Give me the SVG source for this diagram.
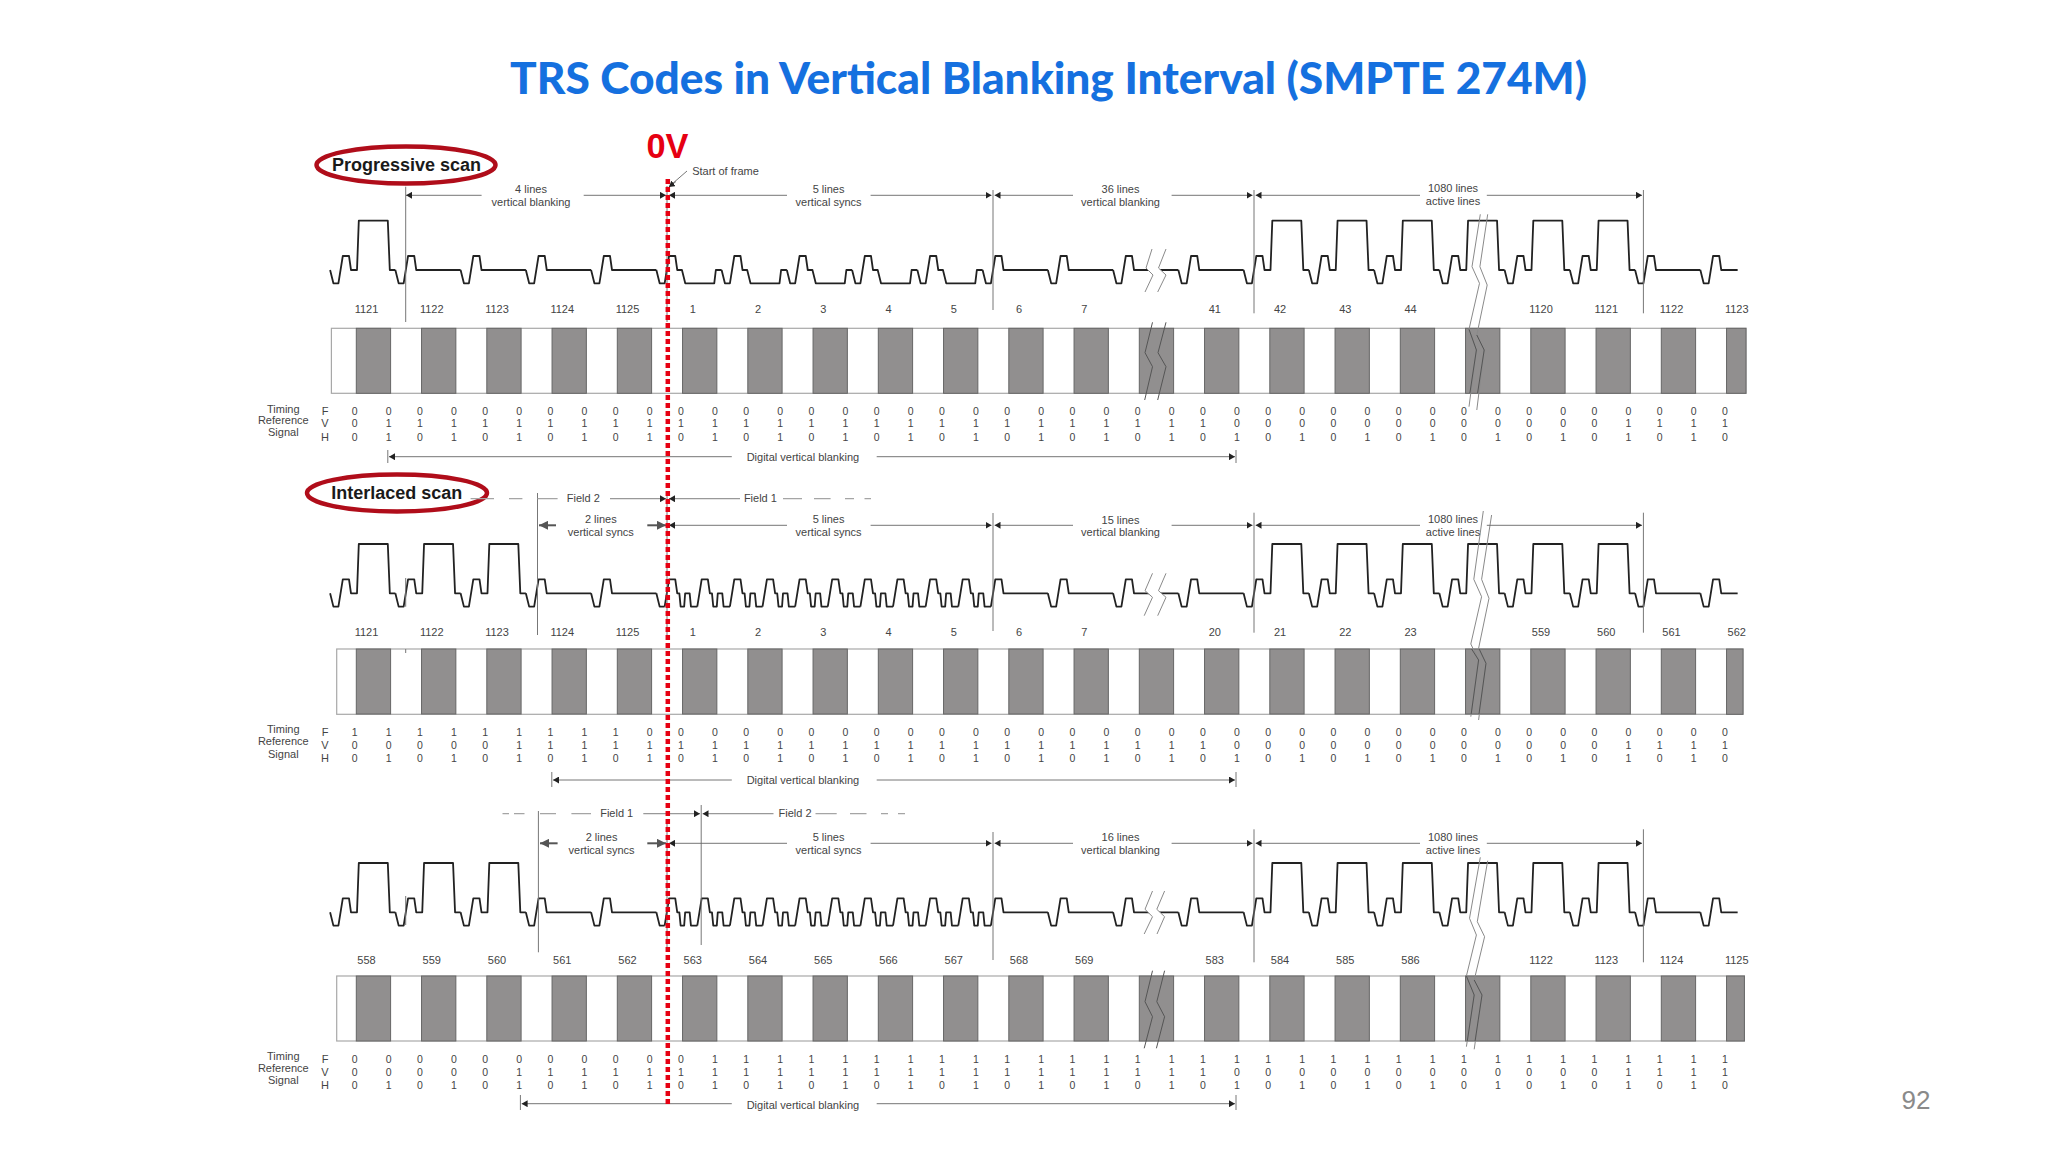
<svg xmlns="http://www.w3.org/2000/svg" width="2048" height="1152" viewBox="0 0 2048 1152">
<style>
text{font-family:"Liberation Sans",Arial,sans-serif;fill:#444;font-size:11px;text-anchor:middle;dominant-baseline:central}
.title{font-family:"Lato","Liberation Sans",sans-serif;font-weight:900;font-size:43px;fill:#1570df;text-anchor:start;dominant-baseline:auto}
.ov{font-weight:700;font-size:35px;fill:#e60012;dominant-baseline:auto}
.scan{font-weight:700;font-size:18px;fill:#1a1a1a}
.pg{font-size:26px;fill:#8a8a8a}
.dg{font-size:10.5px}
.wave{fill:none;stroke:#222;stroke-width:1.8;stroke-linejoin:round}
.ell{fill:none;stroke:#b00d1a;stroke-width:4.5}
.frame{fill:#fff;stroke:#a8a8a8;stroke-width:1.2}
.bar{fill:#918f8f;stroke:#666;stroke-width:1}
.gap{fill:#fff;stroke:none}
.brk{fill:none;stroke:#8a8a8a;stroke-width:1}
.brk2{fill:none;stroke:#555;stroke-width:1}
.v{stroke:#777;stroke-width:1;fill:none}
.d{stroke:#666;stroke-width:.9;fill:none}
.da{stroke:#666;stroke-width:.9;fill:none;marker-end:url(#ah)}
.db{stroke:#555;stroke-width:2;fill:none;marker-end:url(#ahb)}
.f{stroke:#a5a5a5;stroke-width:1.3;fill:none}
.fa{stroke:#999;stroke-width:1.3;fill:none;marker-end:url(#ah)}
.red{stroke:#e60012;stroke-width:4.5;stroke-dasharray:5 3;fill:none}
</style>
<defs>
<marker id="ah" markerUnits="userSpaceOnUse" markerWidth="6" markerHeight="7" refX="6" refY="3.5" orient="auto"><path d="M0 0L6 3.5L0 7Z" fill="#222"/></marker>
<marker id="ahb" markerUnits="userSpaceOnUse" markerWidth="9" markerHeight="9" refX="9" refY="4.5" orient="auto"><path d="M0 0L9 4.5L0 9Z" fill="#555"/></marker>
<path id="pa" d="M-10.3 0L-7 13.3H-2L2.4 -14H8.6L10.6 0H16.6L18.4 -49.3H47.4L49.4 0H55"/>
<path id="pb" d="M-10.3 0L-7 13.3H-2L2.4 -14H8.6L10.6 0H55"/>
<path id="pn" d="M-2 13.3L2.4 -14H8.6L10.6 0H55"/>
<path id="pv" d="M-10.3 0L-7 13.3H-2L2.4 -14H8.6L10.6 0H15.3L18.6 13.3H47.6L49.2 0H55"/>
<path id="ph" d="M-2 13.3L2.4 -14H8.6L10.6 0H12.7L14 13.3H17.5L18.5 0H23L24.3 13.3H30.7"/>
<path id="pl" d="M-10.3 0L-7 13.3H-2"/>
<path id="pe" d="M-10.3 0L-7 13.3H-2L2.4 -14H8.6L10.6 0H27"/>
<g id="wp">
<use href="#pa" x="340.4"/><use href="#pb" x="405.65"/><use href="#pb" x="470.9"/><use href="#pb" x="536.15"/><use href="#pb" x="601.4"/>
<use href="#pv" x="666.65"/><use href="#pv" x="731.9"/><use href="#pv" x="797.15"/><use href="#pv" x="862.4"/><use href="#pv" x="927.65"/>
<use href="#pb" x="992.9"/><use href="#pb" x="1058.15"/><use href="#pb" x="1123.4"/><use href="#pb" x="1188.65"/>
<use href="#pa" x="1253.9"/><use href="#pa" x="1319.15"/><use href="#pa" x="1384.4"/><use href="#pa" x="1449.65"/><use href="#pa" x="1514.9"/><use href="#pa" x="1580.15"/>
<use href="#pb" x="1645.4"/><use href="#pe" x="1710.65"/>
</g>
<g id="wi">
<use href="#pa" x="340.4"/><use href="#pa" x="405.65"/><use href="#pa" x="470.9"/><use href="#pb" x="536.15"/><use href="#pb" x="601.4"/>
<use href="#pl" x="666.65"/><use href="#ph" x="666.65"/><use href="#ph" x="699.275"/><use href="#ph" x="731.9"/><use href="#ph" x="764.525"/><use href="#ph" x="797.15"/><use href="#ph" x="829.775"/><use href="#ph" x="862.4"/><use href="#ph" x="895.025"/><use href="#ph" x="927.65"/><use href="#ph" x="960.275"/>
<use href="#pn" x="992.9"/><use href="#pb" x="1058.15"/><use href="#pb" x="1123.4"/><use href="#pb" x="1188.65"/>
<use href="#pa" x="1253.9"/><use href="#pa" x="1319.15"/><use href="#pa" x="1384.4"/><use href="#pa" x="1449.65"/><use href="#pa" x="1514.9"/><use href="#pa" x="1580.15"/>
<use href="#pb" x="1645.4"/><use href="#pe" x="1710.65"/>
</g>
<g id="bars" class="bar">
<rect x="356.3" width="34.3" height="65"/><rect x="421.55" width="34.3" height="65"/><rect x="486.8" width="34.3" height="65"/><rect x="552.05" width="34.3" height="65"/><rect x="617.3" width="34.3" height="65"/><rect x="682.55" width="34.3" height="65"/><rect x="747.8" width="34.3" height="65"/><rect x="813.05" width="34.3" height="65"/><rect x="878.3" width="34.3" height="65"/><rect x="943.55" width="34.3" height="65"/><rect x="1008.8" width="34.3" height="65"/><rect x="1074.05" width="34.3" height="65"/><rect x="1139.3" width="34.3" height="65"/><rect x="1204.55" width="34.3" height="65"/><rect x="1269.8" width="34.3" height="65"/><rect x="1335.05" width="34.3" height="65"/><rect x="1400.3" width="34.3" height="65"/><rect x="1465.55" width="34.3" height="65"/><rect x="1530.8" width="34.3" height="65"/><rect x="1596.05" width="34.3" height="65"/><rect x="1661.3" width="34.3" height="65"/>
</g>
</defs>
<rect width="2048" height="1152" fill="#fff"/>
<text id="title" class="title" x="510" y="94" textLength="1077" lengthAdjust="spacingAndGlyphs">TRS Codes in Vertical Blanking Interval (SMPTE 274M)</text>

<g id="progressive-scan">
<ellipse class="ell" cx="406" cy="165" rx="89.5" ry="18.5"/>
<text class="scan" x="406.5" y="165">Progressive scan</text>
</g>
<g id="interlaced-scan">
<ellipse class="ell" cx="397" cy="493" rx="90" ry="18.5"/>
<text class="scan" x="396.7" y="493">Interlaced scan</text>
</g>

<g id="waveform-progressive">
<use href="#wp" class="wave" y="270"/>
<path class="gap" d="M1152 249L1146 268L1153 275L1145 292L1157.7 292L1166 275L1158.5 268L1166 249Z"/>
<path class="brk" d="M1152 249L1146 268L1153 275L1145 292M1166 249L1158.5 268L1166 275L1157.7 292"/>
</g>
<g id="bar-progressive">
<rect class="frame" x="331.4" y="328.3" width="1414.6" height="65"/>
<use href="#bars" y="328.3"/>
<rect class="bar" x="1726.55" y="328.3" width="19.45" height="65"/>
<path class="brk2" d="M1152.5 322.3L1145 352.7L1152.5 366.7L1144.7 400M1166 322.3L1158 352.7L1166 366.7L1157.7 400"/>
<path class="brk" d="M1480.3 214.3L1472 266.7L1479.5 283.3L1469 329.3L1476.4 350L1469 406.7M1487.7 214.3L1479.9 266.7L1487.2 285L1476.8 335L1484.2 350L1476.8 410"/>
<path class="brk2" d="M1469 329.3L1476.4 350L1469.9 393M1476.8 335L1484.2 350L1477.6 393"/>
</g>
<g id="line-numbers-progressive">
<text x="366.5" y="309">1121</text><text x="431.75" y="309">1122</text><text x="497" y="309">1123</text><text x="562.25" y="309">1124</text><text x="627.5" y="309">1125</text><text x="692.75" y="309">1</text><text x="758" y="309">2</text><text x="823.25" y="309">3</text><text x="888.5" y="309">4</text><text x="953.75" y="309">5</text><text x="1019" y="309">6</text><text x="1084.25" y="309">7</text><text x="1214.75" y="309">41</text><text x="1280" y="309">42</text><text x="1345.25" y="309">43</text><text x="1410.5" y="309">44</text><text x="1541" y="309">1120</text><text x="1606.25" y="309">1121</text><text x="1671.5" y="309">1122</text><text x="1736.75" y="309">1123</text>
</g>
<g id="trs-progressive">
<text x="283.3" y="408.7">Timing</text><text x="283.3" y="420">Reference</text><text x="283.3" y="432.3">Signal</text>
<text x="325" y="410.7">F</text><text x="325" y="423.3">V</text><text x="325" y="436.7">H</text>
<text class="dg" y="410.7" x="354.7 388.6 420 453.9 485.2 519.1 550.5 584.4 615.7 649.6 681 714.9 746.2 780.1 811.5 845.4 876.7 910.6 942 975.9 1007.2 1041.1 1072.5 1106.4 1137.7 1171.6 1203 1236.9 1268.2 1302.1 1333.5 1367.4 1398.7 1432.6 1464 1497.9 1529.2 1563.1 1594.5 1628.4 1659.7 1693.6 1725">0000000000000000000000000000000000000000000</text>
<text class="dg" y="423.3" x="354.7 388.6 420 453.9 485.2 519.1 550.5 584.4 615.7 649.6 681 714.9 746.2 780.1 811.5 845.4 876.7 910.6 942 975.9 1007.2 1041.1 1072.5 1106.4 1137.7 1171.6 1203 1236.9 1268.2 1302.1 1333.5 1367.4 1398.7 1432.6 1464 1497.9 1529.2 1563.1 1594.5 1628.4 1659.7 1693.6 1725">0111111111111111111111111110000000000001111</text>
<text class="dg" y="436.7" x="354.7 388.6 420 453.9 485.2 519.1 550.5 584.4 615.7 649.6 681 714.9 746.2 780.1 811.5 845.4 876.7 910.6 942 975.9 1007.2 1041.1 1072.5 1106.4 1137.7 1171.6 1203 1236.9 1268.2 1302.1 1333.5 1367.4 1398.7 1432.6 1464 1497.9 1529.2 1563.1 1594.5 1628.4 1659.7 1693.6 1725">0101010101010101010101010101010101010101010</text>
</g>

<g id="waveform-interlaced-field1">
<use href="#wi" class="wave" y="593.3"/>
<path class="gap" d="M1152.5 573.3L1145 590.7L1152.5 597.3L1144.2 615.7L1157.7 615.7L1166 597.3L1158.5 590.7L1166 573.3Z"/>
<path class="brk" d="M1152.5 573.3L1145 590.7L1152.5 597.3L1144.2 615.7M1166 573.3L1158.5 590.7L1166 597.3L1157.7 615.7"/>
</g>
<g id="bar-interlaced-field1">
<rect class="frame" x="336.7" y="649" width="1406.3" height="65.3"/>
<use href="#bars" y="649"/>
<rect class="bar" x="1726.55" y="649" width="16.45" height="65.3"/>
<path class="brk" d="M1483.3 511L1473.8 579.3L1481.6 596.7L1470.8 644L1478.6 660L1470.8 716.7M1491.6 515L1481.6 579.3L1489 598.3L1478.6 648.3L1486 663.3L1478.6 720"/>
<path class="brk2" d="M1471.6 649L1478.6 660L1471.2 714M1479.2 649L1486 663.3L1479 714"/>
</g>
<g id="line-numbers-interlaced-field1">
<text x="366.5" y="631.7">1121</text><text x="431.75" y="631.7">1122</text><text x="497" y="631.7">1123</text><text x="562.25" y="631.7">1124</text><text x="627.5" y="631.7">1125</text><text x="692.75" y="631.7">1</text><text x="758" y="631.7">2</text><text x="823.25" y="631.7">3</text><text x="888.5" y="631.7">4</text><text x="953.75" y="631.7">5</text><text x="1019" y="631.7">6</text><text x="1084.25" y="631.7">7</text><text x="1214.75" y="631.7">20</text><text x="1280" y="631.7">21</text><text x="1345.25" y="631.7">22</text><text x="1410.5" y="631.7">23</text><text x="1541" y="631.7">559</text><text x="1606.25" y="631.7">560</text><text x="1671.5" y="631.7">561</text><text x="1736.75" y="631.7">562</text>
</g>
<g id="trs-interlaced-field1">
<text x="283.3" y="729">Timing</text><text x="283.3" y="741.3">Reference</text><text x="283.3" y="753.7">Signal</text>
<text x="325" y="732">F</text><text x="325" y="745">V</text><text x="325" y="758">H</text>
<text class="dg" y="732" x="354.7 388.6 420 453.9 485.2 519.1 550.5 584.4 615.7 649.6 681 714.9 746.2 780.1 811.5 845.4 876.7 910.6 942 975.9 1007.2 1041.1 1072.5 1106.4 1137.7 1171.6 1203 1236.9 1268.2 1302.1 1333.5 1367.4 1398.7 1432.6 1464 1497.9 1529.2 1563.1 1594.5 1628.4 1659.7 1693.6 1725">1111111110000000000000000000000000000000000</text>
<text class="dg" y="745" x="354.7 388.6 420 453.9 485.2 519.1 550.5 584.4 615.7 649.6 681 714.9 746.2 780.1 811.5 845.4 876.7 910.6 942 975.9 1007.2 1041.1 1072.5 1106.4 1137.7 1171.6 1203 1236.9 1268.2 1302.1 1333.5 1367.4 1398.7 1432.6 1464 1497.9 1529.2 1563.1 1594.5 1628.4 1659.7 1693.6 1725">0000011111111111111111111110000000000001111</text>
<text class="dg" y="758" x="354.7 388.6 420 453.9 485.2 519.1 550.5 584.4 615.7 649.6 681 714.9 746.2 780.1 811.5 845.4 876.7 910.6 942 975.9 1007.2 1041.1 1072.5 1106.4 1137.7 1171.6 1203 1236.9 1268.2 1302.1 1333.5 1367.4 1398.7 1432.6 1464 1497.9 1529.2 1563.1 1594.5 1628.4 1659.7 1693.6 1725">0101010101010101010101010101010101010101010</text>
</g>

<g id="waveform-interlaced-field2">
<use href="#wi" class="wave" y="912.3"/>
<path class="gap" d="M1152.5 891L1145 909.3L1152.5 916.7L1144.2 934L1157 934L1164.6 916.7L1156.8 909.3L1164.6 891Z"/>
<path class="brk" d="M1152.5 891L1145 909.3L1152.5 916.7L1144.2 934M1164.6 891L1156.8 909.3L1164.6 916.7L1157 934"/>
</g>
<g id="bar-interlaced-field2">
<rect class="frame" x="336.7" y="976" width="1407.7" height="65"/>
<use href="#bars" y="976"/>
<rect class="bar" x="1726.55" y="976" width="17.85" height="65"/>
<path class="brk2" d="M1152.5 970.7L1145 1001.7L1152.5 1016.7L1144.2 1048.3M1164.6 970.7L1156.8 1001.7L1164.6 1016.7L1156.4 1048.3"/>
<path class="brk" d="M1480.3 857.3L1469.5 918.3L1476.4 935L1466.4 976L1474.2 995L1466.4 1046.7M1487.7 860.7L1477.3 921.7L1484.6 936.7L1474.2 980L1482 995L1474.2 1049.3"/>
<path class="brk2" d="M1466.4 976L1474.2 995L1467.3 1041M1474.2 980L1482 995L1475.1 1041"/>
</g>
<g id="line-numbers-interlaced-field2">
<text x="366.5" y="959.7">558</text><text x="431.75" y="959.7">559</text><text x="497" y="959.7">560</text><text x="562.25" y="959.7">561</text><text x="627.5" y="959.7">562</text><text x="692.75" y="959.7">563</text><text x="758" y="959.7">564</text><text x="823.25" y="959.7">565</text><text x="888.5" y="959.7">566</text><text x="953.75" y="959.7">567</text><text x="1019" y="959.7">568</text><text x="1084.25" y="959.7">569</text><text x="1214.75" y="959.7">583</text><text x="1280" y="959.7">584</text><text x="1345.25" y="959.7">585</text><text x="1410.5" y="959.7">586</text><text x="1541" y="959.7">1122</text><text x="1606.25" y="959.7">1123</text><text x="1671.5" y="959.7">1124</text><text x="1736.75" y="959.7">1125</text>
</g>
<g id="trs-interlaced-field2">
<text x="283.3" y="1056.3">Timing</text><text x="283.3" y="1068.3">Reference</text><text x="283.3" y="1080.3">Signal</text>
<text x="325" y="1059">F</text><text x="325" y="1072.3">V</text><text x="325" y="1085.3">H</text>
<text class="dg" y="1059" x="354.7 388.6 420 453.9 485.2 519.1 550.5 584.4 615.7 649.6 681 714.9 746.2 780.1 811.5 845.4 876.7 910.6 942 975.9 1007.2 1041.1 1072.5 1106.4 1137.7 1171.6 1203 1236.9 1268.2 1302.1 1333.5 1367.4 1398.7 1432.6 1464 1497.9 1529.2 1563.1 1594.5 1628.4 1659.7 1693.6 1725">0000000000011111111111111111111111111111111</text>
<text class="dg" y="1072.3" x="354.7 388.6 420 453.9 485.2 519.1 550.5 584.4 615.7 649.6 681 714.9 746.2 780.1 811.5 845.4 876.7 910.6 942 975.9 1007.2 1041.1 1072.5 1106.4 1137.7 1171.6 1203 1236.9 1268.2 1302.1 1333.5 1367.4 1398.7 1432.6 1464 1497.9 1529.2 1563.1 1594.5 1628.4 1659.7 1693.6 1725">0000011111111111111111111110000000000001111</text>
<text class="dg" y="1085.3" x="354.7 388.6 420 453.9 485.2 519.1 550.5 584.4 615.7 649.6 681 714.9 746.2 780.1 811.5 845.4 876.7 910.6 942 975.9 1007.2 1041.1 1072.5 1106.4 1137.7 1171.6 1203 1236.9 1268.2 1302.1 1333.5 1367.4 1398.7 1432.6 1464 1497.9 1529.2 1563.1 1594.5 1628.4 1659.7 1693.6 1725">0101010101010101010101010101010101010101010</text>
</g>

<g id="connectors">
<path class="v" d="M405.7 186.7V322M667 186V322M993 190V310M1254 190V313.3M1643.4 190V313.3"/>
<path class="v" d="M537.5 493V635M667 493V635M993 513V631M1254 512.7V632.7M1643.4 512.7V632.7M405.7 578V606.7M405.7 649V653"/>
<path class="v" d="M538.4 811V952.3M701.2 805V945M667 820V950M993 832V960M1254 829.3V962.3M1643.4 829.3V962.3M405.7 896V925"/>
<path class="d" d="M687 171L672 184"/>
<path class="da" d="M676 181.5L668.8 187"/>
<g id="dim-progressive">
<path class="da" d="M481.6 195.3H406"/><path class="da" d="M583.7 195.3H666"/><path class="da" d="M787 195.3H669"/><path class="da" d="M870.6 195.3H991.5"/><path class="da" d="M1073 195.3H994.5"/><path class="da" d="M1171.6 195.3H1252.5"/><path class="da" d="M1420 195.3H1255.5"/><path class="da" d="M1486.8 195.3H1642"/>
<path class="da" d="M731.8 456.7H389"/><path class="da" d="M876.7 456.7H1235"/><path class="v" d="M387.8 450V463M1236 450V463"/>
</g>
<g id="dim-interlaced-field1">
<path class="f" d="M470.6 498.7H494M509 498.7H522.4M537.5 498.7H557.6M783 498.7H802M814 498.7H830.6M845 498.7H854M864.5 498.7H871"/>
<path class="fa" d="M610 498.7H666"/><path class="fa" d="M740 498.7H669"/>
<path class="db" d="M556 525.3H539"/><path class="db" d="M647.3 525.3H666"/><path class="da" d="M787 525.3H669"/><path class="da" d="M870.6 525.3H991.5"/><path class="da" d="M1073 525.3H994.5"/><path class="da" d="M1171.6 525.3H1252.5"/><path class="da" d="M1420 525.3H1255.5"/><path class="da" d="M1486.8 525.3H1642"/>
<path class="da" d="M731.8 780H553"/><path class="da" d="M876.7 780H1235"/><path class="v" d="M551.8 772V787M1236 772V787"/>
</g>
<g id="dim-interlaced-field2">
<path class="f" d="M502.5 813.7H509M514 813.7H524.5M540 813.7H556M571.4 813.7H591M815.5 813.7H836.7M850 813.7H866.5M881 813.7H888M898 813.7H905"/>
<path class="fa" d="M643.3 813.7H700"/><path class="fa" d="M773.5 813.7H702.5"/>
<path class="db" d="M557.6 843.3H540"/><path class="db" d="M647.3 843.3H666"/><path class="da" d="M787 843.3H669"/><path class="da" d="M870.6 843.3H991.5"/><path class="da" d="M1073 843.3H994.5"/><path class="da" d="M1171.6 843.3H1252.5"/><path class="da" d="M1420 843.3H1255.5"/><path class="da" d="M1486.8 843.3H1642"/>
<path class="da" d="M731.8 1103.7H521.6"/><path class="da" d="M876.7 1103.7H1235"/><path class="v" d="M520.4 1095V1110M1236 1095V1110"/>
</g>
</g>

<g id="dim-labels">
<text x="725.5" y="171">Start of frame</text>
<text x="531" y="189.3">4 lines</text><text x="531" y="201.7">vertical blanking</text>
<text x="828.6" y="189.3">5 lines</text><text x="828.6" y="201.7">vertical syncs</text>
<text x="1120.5" y="189.3">36 lines</text><text x="1120.5" y="201.7">vertical blanking</text>
<text x="1453" y="188.3">1080 lines</text><text x="1453" y="200.7">active lines</text>
<text x="802.9" y="456.7">Digital vertical blanking</text>
<text x="583.3" y="497.7">Field 2</text><text x="760.4" y="497.7">Field 1</text>
<text x="600.8" y="519">2 lines</text><text x="600.8" y="532">vertical syncs</text>
<text x="828.6" y="519.3">5 lines</text><text x="828.6" y="531.7">vertical syncs</text>
<text x="1120.5" y="520">15 lines</text><text x="1120.5" y="531.7">vertical blanking</text>
<text x="1453" y="519.3">1080 lines</text><text x="1453" y="531.7">active lines</text>
<text x="802.9" y="780.3">Digital vertical blanking</text>
<text x="616.7" y="813">Field 1</text><text x="795" y="813">Field 2</text>
<text x="601.6" y="837">2 lines</text><text x="601.6" y="850">vertical syncs</text>
<text x="828.6" y="837">5 lines</text><text x="828.6" y="849.7">vertical syncs</text>
<text x="1120.5" y="837.3">16 lines</text><text x="1120.5" y="849.7">vertical blanking</text>
<text x="1453" y="837.3">1080 lines</text><text x="1453" y="849.7">active lines</text>
<text x="802.9" y="1105">Digital vertical blanking</text>
</g>

<g id="zero-v">
<path class="red" d="M667.8 179V1107"/>
<text class="ov" x="667.5" y="158" textLength="42" lengthAdjust="spacingAndGlyphs">0V</text>
</g>
<text id="page-number" class="pg" x="1916" y="1100">92</text>
</svg>
